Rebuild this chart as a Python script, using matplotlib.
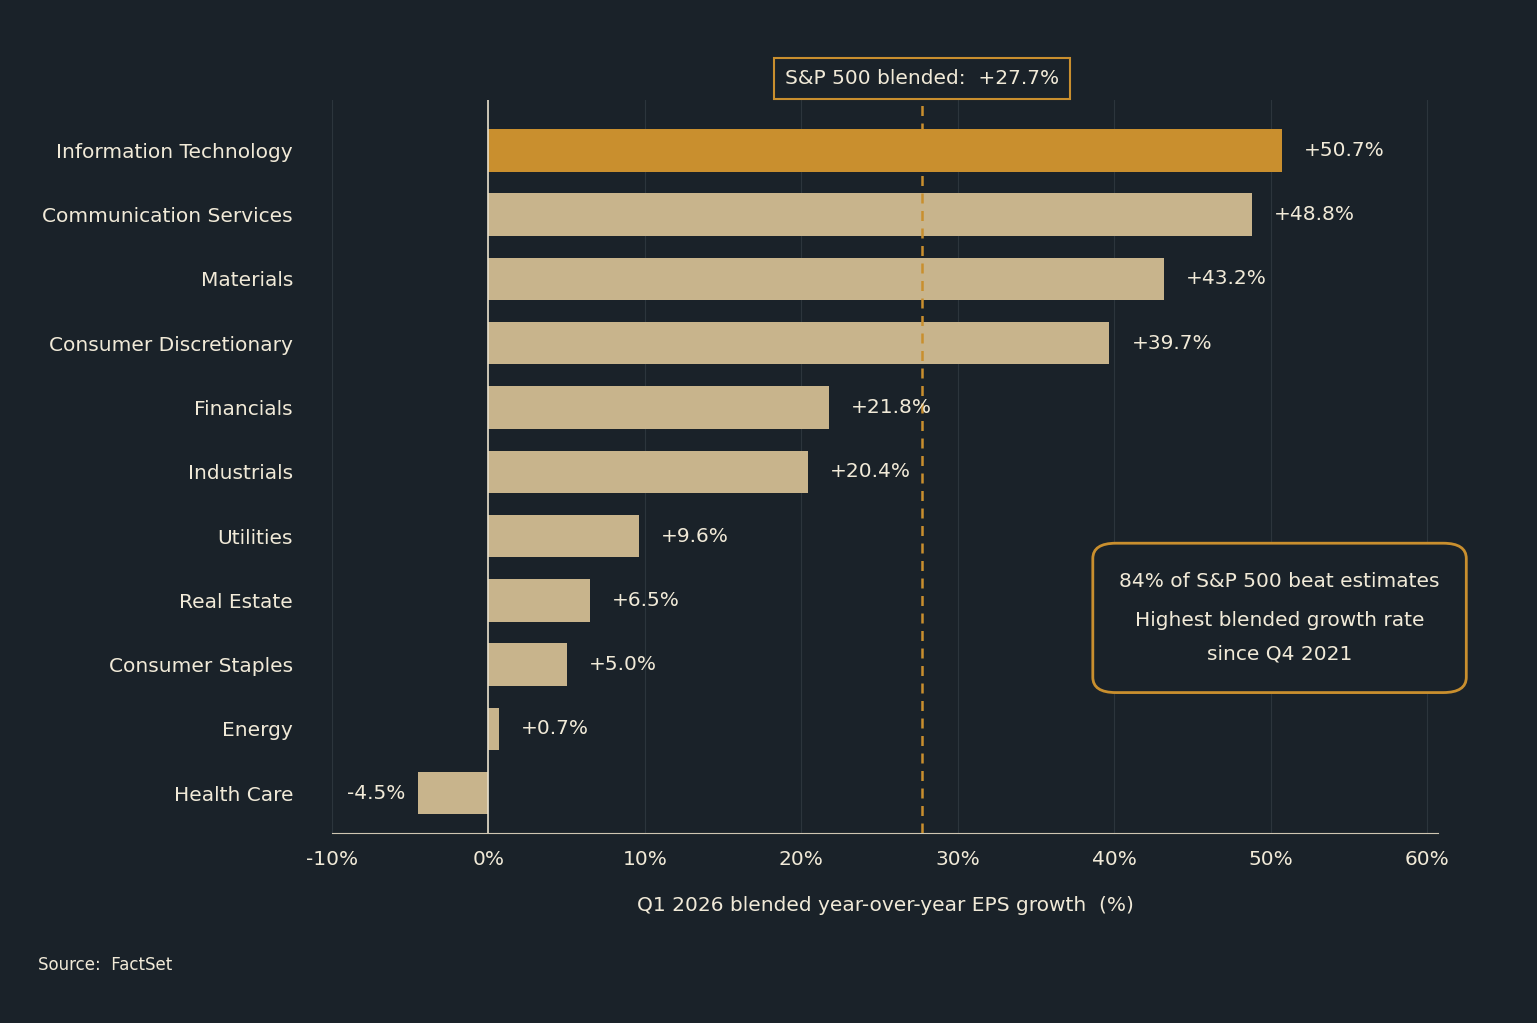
import matplotlib.pyplot as plt
from matplotlib.patches import FancyBboxPatch

sectors = ["Information Technology", "Communication Services", "Materials",
           "Consumer Discretionary", "Financials", "Industrials", "Utilities",
           "Real Estate", "Consumer Staples", "Energy", "Health Care"]
growth = [50.7, 48.8, 43.2, 39.7, 21.8, 20.4, 9.6, 6.5, 5.0, 0.7, -4.5]
sp500 = 27.7
ticks = [-10, 0, 10, 20, 30, 40, 50, 60]

bg = "#1a2229"
gold = "#c98f2e"
sand = "#c8b48c"
txt = "#f1ead8"

plt.rcParams['font.family'] = ['DejaVu Sans']
fig = plt.figure(figsize=(15.37, 10.23), dpi=100, facecolor=bg)
ax = fig.add_axes([0.216, 0.1857, 0.7196, 0.7163], facecolor=bg)

ypos = list(range(len(sectors)))
colors = [gold] + [sand] * (len(sectors) - 1)
ax.barh(ypos, growth, height=0.66, color=colors, zorder=3)
ax.set_ylim(len(sectors) - 1 + 0.62, -0.78)
ax.set_xlim(-10, 60.7)

for y, v in zip(ypos, growth):
    s = f"{v:+.1f}%"
    if v >= 0:
        ax.text(v + 1.4, y, s, va="center", ha="left", color=txt, fontsize=14.5, zorder=5)
    else:
        ax.text(v - 0.8, y, s, va="center", ha="right", color=txt, fontsize=14.5, zorder=5)

ax.set_yticks(ypos)
ax.set_yticklabels(sectors, color=txt, fontsize=14.5)
ax.set_xticks(ticks)
ax.set_xticklabels([f"{t}%" for t in ticks], color=txt, fontsize=14.5)
ax.tick_params(length=0, pad=12)
ax.tick_params(axis="y", pad=28)
for t in ticks:
    ax.axvline(t, color="#2c353c", lw=0.8, zorder=1)
ax.axvline(0, color="#e8e0cc", lw=1.2, zorder=4)
for sp in ["top", "right", "left"]:
    ax.spines[sp].set_visible(False)
ax.spines["bottom"].set_color("#cfc6b2")

ax.axvline(sp500, color=gold, lw=1.8, ls=(0, (4, 3)), zorder=4)
ax.text(sp500, 1.03, "S&P 500 blended:  +27.7%", transform=ax.get_xaxis_transform(),
        ha="center", va="center", color=txt, fontsize=14.5,
        bbox=dict(boxstyle="square,pad=0.55", fc=bg, ec=gold, lw=1.5))

box = FancyBboxPatch((0.711, 0.329), 0.0, 0.0, transform=fig.transFigure,
                     boxstyle="round,pad=0,rounding_size=0.012")
fig.patches.append(FancyBboxPatch((0.711, 0.323), 0.243, 0.146, transform=fig.transFigure,
                                  boxstyle="round,pad=0,rounding_size=0.015",
                                  fc=bg, ec=gold, lw=2))
fig.text(0.8325, 0.432, "84% of S&P 500 beat estimates", ha="center", va="center",
         color=txt, fontsize=14.5)
fig.text(0.8325, 0.393, "Highest blended growth rate", ha="center", va="center",
         color=txt, fontsize=14.5)
fig.text(0.8325, 0.361, "since Q4 2021", ha="center", va="center", color=txt, fontsize=14.5)

ax.set_xlabel("Q1 2026 blended year-over-year EPS growth  (%)", color=txt,
              fontsize=14.5, labelpad=20)
fig.text(0.025, 0.052, "Source:  FactSet", color=txt, fontsize=12)

fig.savefig("out.png", facecolor=bg)
